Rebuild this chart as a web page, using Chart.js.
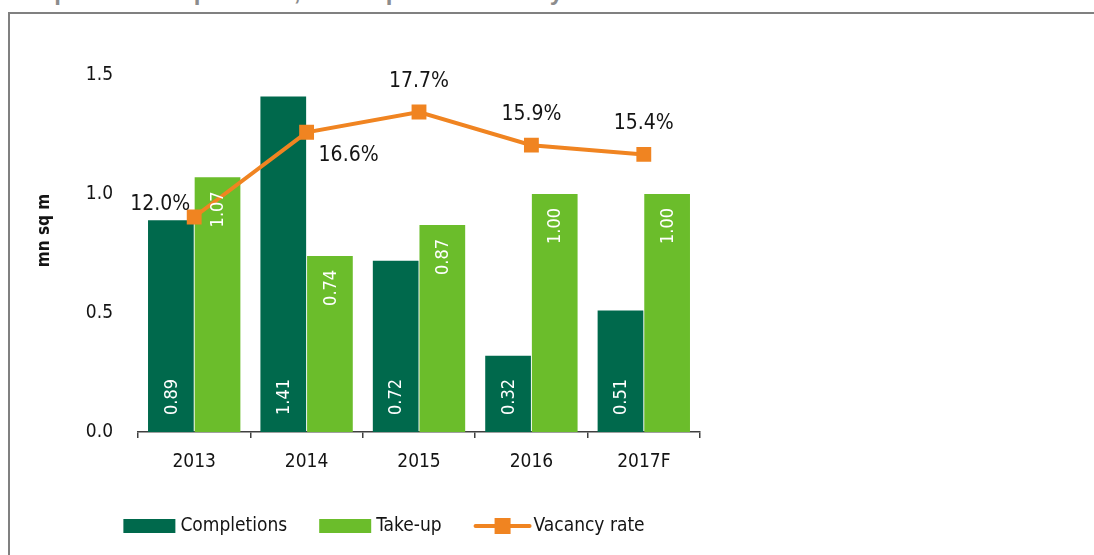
<!DOCTYPE html>
<html>
<head>
<meta charset="utf-8">
<script src="https://cdn.jsdelivr.net/npm/chart.js@4.4.1/dist/chart.umd.min.js"></script>
<style>
  html, body { margin: 0; padding: 0; background: #fff; overflow: hidden; width: 1094px; height: 555px; }
  #title { position: absolute; left: 10px; top: -20px; font: bold 24px "Liberation Sans", Arial, sans-serif; letter-spacing: 1px; line-height: 24px; color: #8c8c8c; white-space: nowrap; }
  #frame { position: absolute; left: 8px; top: 12px; width: 1200px; height: 700px; border: 2px solid #808080; }
  #wrap { position: absolute; left: 0; top: 0; width: 768px; height: 555px; }
</style>
</head>
<body>
<div id="title">Graph 2 – Completions, take-up and vacancy rate</div>
<div id="frame"></div>
<div id="wrap"><canvas id="chart" width="768" height="555"></canvas></div>
<script>
// ============================================
// DATA
// ============================================
const years = ['2013', '2014', '2015', '2016', '2017F'];
const completions = [0.89, 1.41, 0.72, 0.32, 0.51];
const takeUp = [1.07, 0.74, 0.87, 1.00, 1.00];
const vacancyRate = [12.0, 16.6, 17.7, 15.9, 15.4];
const yTicks = [0, 0.5, 1.0, 1.5];
const vacancyLabelPos = ['left', 'right', 'top', 'top', 'top'];

const DARK = '#00694C';
const LIGHT = '#6BBD2B';
const ORANGE = '#F08421';
const INK = '#141414';
const FONT = '"DejaVu Sans Condensed", "Liberation Sans Narrow", sans-serif';

// ============================================
// LABELS (bar values, vacancy %, axis title, legend)
// ============================================
const labelPlugin = {
    id: 'valueLabels',
    afterDatasetsDraw(chart) {
        const ctx = chart.ctx;

        // bar values, written bottom-to-top inside the bars
        [0, 1].forEach(di => {
            chart.getDatasetMeta(di).data.forEach((bar, i) => {
                const v = chart.data.datasets[di].data[i];
                ctx.save();
                ctx.fillStyle = '#fff';
                ctx.font = '18px ' + FONT;
                ctx.textBaseline = 'middle';
                if (di === 0) {
                    ctx.translate(bar.x + 1, bar.base - 17);
                    ctx.textAlign = 'left';
                } else {
                    ctx.translate(bar.x + 1, bar.y + 14);
                    ctx.textAlign = 'right';
                }
                ctx.rotate(-Math.PI / 2);
                ctx.fillText(v.toFixed(2), 0, 0);
                ctx.restore();
            });
        });

        // vacancy rate labels
        ctx.save();
        ctx.font = '21px ' + FONT;
        ctx.fillStyle = INK;
        ctx.textBaseline = 'alphabetic';
        chart.getDatasetMeta(2).data.forEach((pt, i) => {
            const txt = vacancyRate[i].toFixed(1) + '%';
            const pos = vacancyLabelPos[i];
            if (pos === 'left') {
                ctx.textAlign = 'right';
                ctx.fillText(txt, pt.x - 4, pt.y - 7);
            } else if (pos === 'right') {
                ctx.textAlign = 'left';
                ctx.fillText(txt, pt.x + 12, pt.y + 29);
            } else {
                ctx.textAlign = 'center';
                ctx.fillText(txt, pt.x, pt.y - 25);
            }
        });
        ctx.restore();
    },
    afterDraw(chart) {
        const ctx = chart.ctx;
        const area = chart.chartArea;

        // y axis title
        ctx.save();
        ctx.font = 'bold 17px ' + FONT;
        ctx.fillStyle = INK;
        ctx.textAlign = 'center';
        ctx.textBaseline = 'middle';
        ctx.translate(area.left - 93, (area.top + area.bottom) / 2 - 23);
        ctx.rotate(-Math.PI / 2);
        ctx.fillText('mn sq m', 0, 0);
        ctx.restore();

        // legend
        ctx.save();
        ctx.font = '19px ' + FONT;
        ctx.textBaseline = 'middle';
        ctx.textAlign = 'left';
        const items = chart.data.datasets.map(ds => ({
            label: ds.label,
            line: ds.type === 'line',
            color: ds.type === 'line' ? ds.borderColor : ds.backgroundColor
        }));
        const gap = 32;
        const widths = items.map(it => (it.line ? 60 : 57) + ctx.measureText(it.label).width);
        const total = widths.reduce((a, b) => a + b, 0) + gap * (items.length - 1);
        let x = (chart.width - total) / 2;
        const y = area.bottom + 94;
        items.forEach((it, i) => {
            if (it.line) {
                ctx.strokeStyle = it.color;
                ctx.lineWidth = 4;
                ctx.lineCap = 'round';
                ctx.beginPath();
                ctx.moveTo(x + 2, y);
                ctx.lineTo(x + 56, y);
                ctx.stroke();
                ctx.fillStyle = it.color;
                ctx.fillRect(x + 21, y - 8, 16, 16);
                ctx.fillStyle = INK;
                ctx.fillText(it.label, x + 60, y);
            } else {
                ctx.fillStyle = it.color;
                ctx.fillRect(x, y - 7, 52, 14);
                ctx.fillStyle = INK;
                ctx.fillText(it.label, x + 57, y);
            }
            x += widths[i] + gap;
        });
        ctx.restore();
    }
};

// ============================================
// CHART
// ============================================
new Chart(document.getElementById('chart'), {
    type: 'bar',
    data: {
        labels: years,
        datasets: [
            {
                label: 'Completions',
                data: completions,
                backgroundColor: DARK,
                borderWidth: 0,
                categoryPercentage: 0.83,
                barPercentage: 0.98,
                yAxisID: 'y',
                order: 1
            },
            {
                label: 'Take-up',
                data: takeUp,
                backgroundColor: LIGHT,
                borderWidth: 0,
                categoryPercentage: 0.83,
                barPercentage: 0.98,
                yAxisID: 'y',
                order: 1
            },
            {
                type: 'line',
                label: 'Vacancy rate',
                data: vacancyRate,
                borderColor: ORANGE,
                backgroundColor: ORANGE,
                borderWidth: 4,
                tension: 0,
                pointStyle: 'rect',
                pointRadius: 10.5,
                pointBorderWidth: 0,
                pointBackgroundColor: ORANGE,
                yAxisID: 'y1',
                order: 0
            }
        ]
    },
    options: {
        responsive: false,
        animation: false,
        devicePixelRatio: 1,
        layout: { padding: { top: 75, right: 68, left: 0, bottom: 0 } },
        plugins: {
            legend: { display: false },
            tooltip: { enabled: false }
        },
        scales: {
            x: {
                offset: true,
                grid: { display: true, drawOnChartArea: false, drawTicks: true, tickLength: 6, color: '#404040', lineWidth: 1.5, offset: true },
                border: { display: true, color: '#404040', width: 1.5 },
                ticks: { color: INK, font: { family: FONT, size: 19 }, padding: 13 },
                afterFit: s => { s.height = 123; }
            },
            y: {
                min: 0,
                max: 1.5,
                afterBuildTicks: s => { s.ticks = yTicks.map(v => ({ value: v })); },
                ticks: { color: INK, font: { family: FONT, size: 19 }, padding: 25, callback: v => v.toFixed(1) },
                grid: { display: false, drawTicks: false, tickLength: 0 },
                border: { display: false },
                afterFit: s => { s.width = 138; }
            },
            y1: {
                display: false,
                position: 'right',
                min: 0.33,
                max: 19.71
            }
        }
    },
    plugins: [labelPlugin]
});
</script>
</body>
</html>
